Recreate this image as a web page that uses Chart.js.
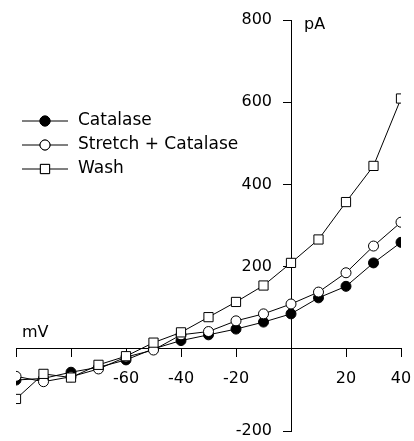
<!DOCTYPE html>
<html>
<head>
<meta charset="utf-8">
<script src="https://cdn.jsdelivr.net/npm/chart.js@4.4.0/dist/chart.umd.min.js"></script>
<style>
body { margin: 0; background: #fff; }
</style>
</head>
<body>
<canvas id="chart" width="414" height="441"></canvas>
<script>
// membrane potential (mV) and currents (pA)
var voltages = [-100, -90, -80, -70, -60, -50, -40, -30, -20, -10, 0, 10, 20, 30, 40];
var catalase = [-76, -72, -57, -45, -27, 0, 20, 34, 48, 65, 85, 124, 152, 209, 259];
var stretchCatalase = [-67, -80, -68, -49, -20, -3, 34, 42, 68, 85, 109, 138, 185, 250, 308];
var wash = [-122, -61, -70, -39, -18, 15, 40, 77, 114, 154, 209, 266, 357, 445, 609];

var xTicksHidden = [-100, -80, 0];
var yTicksHidden = [0];

var FONT = '"DejaVu Sans", sans-serif';
var FONT_SIZE = 16;

function toPoints(values) {
    return voltages.map(function (v, i) { return { x: v, y: values[i] }; });
}

function series(label, values, style, fill, radius, order) {
    return {
        label: label,
        data: toPoints(values),
        borderColor: '#000',
        borderWidth: 1,
        pointStyle: style,
        pointRadius: radius,
        pointBackgroundColor: fill,
        pointBorderColor: '#000',
        pointBorderWidth: 1,
        tension: 0,
        order: order
    };
}

// keep axis label overhang from shrinking the plot
function noOverhang(scale) {
    if (scale.isHorizontal()) scale.height = 0; else scale.width = 0;
    scale.paddingLeft = 0;
    scale.paddingRight = 0;
    scale.paddingTop = 0;
    scale.paddingBottom = 0;
}

// y labels sit left of the crossing axis, not on it
var yLabelShift = {
    id: 'yLabelShift',
    beforeDraw: function (chart) {
        chart.scales.y.getLabelItems(chart.chartArea).forEach(function (item) {
            item.options.translation[0] -= 19;
        });
    }
};

// legend: line with marker in the middle, text to the right
var legendPlugin = {
    id: 'ivLegend',
    afterDatasetsDraw: function (chart) {
        var ctx = chart.ctx;
        ctx.save();
        chart.data.datasets.forEach(function (ds, i) {
            var y = 121 + i * 24;
            ctx.strokeStyle = '#000';
            ctx.lineWidth = 1;
            ctx.beginPath();
            ctx.moveTo(22, y);
            ctx.lineTo(68, y);
            ctx.stroke();
            ctx.fillStyle = ds.pointBackgroundColor;
            Chart.helpers.drawPoint(ctx, { pointStyle: ds.pointStyle, radius: ds.pointRadius, borderWidth: 1, rotation: 0 }, 45, y);
            ctx.fill();
            ctx.stroke();
            ctx.fillStyle = '#000';
            ctx.font = '17px ' + FONT;
            ctx.textBaseline = 'middle';
            ctx.textAlign = 'left';
            ctx.fillText(ds.label, 78, y);
        });
        // axis units
        ctx.font = FONT_SIZE + 'px ' + FONT;
        ctx.textBaseline = 'alphabetic';
        ctx.fillText('mV', 22, 337);
        ctx.fillText('pA', 304, 29);
        ctx.restore();
    }
};

var config = {
    type: 'line',
    data: {
        datasets: [
            series('Catalase', catalase, 'circle', '#000', 5, 3),
            series('Stretch + Catalase', stretchCatalase, 'circle', '#fff', 5, 2),
            series('Wash', wash, 'rect', '#fff', 6.5, 1)
        ]
    },
    options: {
        responsive: false,
        animation: false,
        layout: { padding: { left: 16, right: 13, top: 20, bottom: 10 } },
        plugins: {
            legend: { display: false },
            tooltip: { enabled: false }
        },
        scales: {
            x: {
                type: 'linear',
                min: -100,
                max: 40,
                position: { y: 0 },
                afterFit: noOverhang,
                grid: { drawOnChartArea: false, drawTicks: true, tickLength: 8, tickColor: '#000' },
                border: { color: '#000', width: 1 },
                ticks: {
                    stepSize: 20,
                    padding: 12,
                    color: '#000',
                    font: { family: FONT, size: FONT_SIZE },
                    callback: function (v) { return xTicksHidden.indexOf(v) >= 0 ? '' : v; }
                }
            },
            y: {
                type: 'linear',
                min: -200,
                max: 800,
                position: { x: 0 },
                afterFit: noOverhang,
                grid: { drawOnChartArea: false, drawTicks: true, tickLength: 8, tickColor: '#000' },
                border: { color: '#000', width: 1 },
                ticks: {
                    stepSize: 200,
                    color: '#000',
                    font: { family: FONT, size: FONT_SIZE },
                    callback: function (v) { return yTicksHidden.indexOf(v) >= 0 ? '' : v; }
                }
            }
        }
    },
    plugins: [yLabelShift, legendPlugin]
};

var chartvar = new Chart(document.getElementById('chart'), config);
</script>
</body>
</html>
